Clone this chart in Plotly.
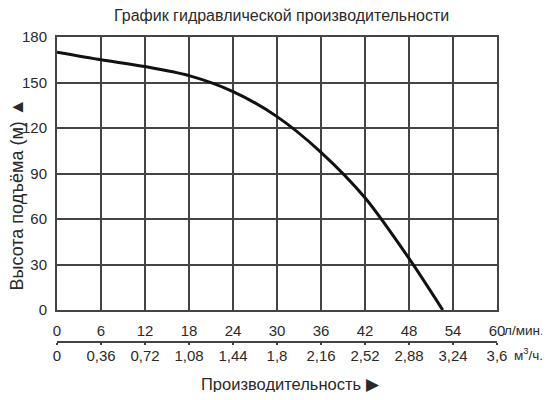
import plotly.graph_objects as go

# Data
flow_lpm = [0, 6, 12, 18, 24, 30, 36, 42, 48, 52.6]
head_m = [170, 165, 160.5, 154.5, 144, 127.5, 104, 74, 34, 0]

x_ticks = [0, 6, 12, 18, 24, 30, 36, 42, 48, 54, 60]
x_ticklabels = ["0", "6", "12", "18", "24", "30", "36", "42", "48", "54", "60"]
m3h_ticks = [0, 0.36, 0.72, 1.08, 1.44, 1.8, 2.16, 2.52, 2.88, 3.24, 3.6]
m3h_labels = ["0", "0,36", "0,72", "1,08", "1,44", "1,8", "2,16", "2,52", "2,88", "3,24", "3,6"]
y_ticks = [0, 30, 60, 90, 120, 150, 180]

FONT = "Liberation Sans, Arial, sans-serif"
TXT = "#2a2a2a"
GRID = "#444444"
TF = 15

OFF = 8  # page body margin
W, H = 542, 384
# page coordinates of plot box
PL, PR, PT, PB = 57, 497, 37, 310
AX2 = 342  # page y of second axis line
L, R, T = PL - OFF, W - (PR - OFF), PT - OFF
B = H - (AX2 - OFF)
paper_h = H - T - B
ydom0 = (AX2 - PB) / paper_h

fig = go.Figure()
fig.add_trace(go.Scatter(
    x=flow_lpm, y=head_m, mode="lines",
    line=dict(color="#111111", width=3, shape="spline", smoothing=0.8),
    showlegend=False, hoverinfo="skip", xaxis="x", yaxis="y",
))
# invisible trace for second axis
fig.add_trace(go.Scatter(
    x=[m3h_ticks[0], m3h_ticks[-1]], y=[0, 0], mode="markers",
    marker=dict(opacity=0), showlegend=False, hoverinfo="skip",
    xaxis="x2", yaxis="y",
))

fig.update_layout(
    width=W, height=H,
    margin=dict(l=L, r=R, t=T, b=B, pad=0, autoexpand=False),
    paper_bgcolor="white", plot_bgcolor="white",
    font=dict(family=FONT, color=TXT, size=TF),
    xaxis=dict(
        domain=[0, 1], range=[0, 60], anchor="y", automargin=False,
        tickmode="array", tickvals=x_ticks, ticktext=x_ticklabels,
        showgrid=True, gridcolor=GRID, gridwidth=1.5,
        showline=True, linecolor=GRID, linewidth=2, mirror=True,
        ticks="", zeroline=False, ticklabelstandoff=6,
        tickfont=dict(size=TF, family=FONT, color=TXT),
    ),
    xaxis2=dict(
        range=[0, 3.6], anchor="free", position=0, overlaying="x", automargin=False,
        tickmode="array", tickvals=m3h_ticks, ticktext=m3h_labels,
        showgrid=False, showline=True, linecolor=GRID, linewidth=2,
        ticks="outside", ticklen=2, tickwidth=2, tickcolor=GRID,
        side="bottom", zeroline=False, ticklabelstandoff=-2,
        tickfont=dict(size=TF, family=FONT, color=TXT),
    ),
    yaxis=dict(
        domain=[ydom0, 1], range=[0, 180], automargin=False,
        tickmode="array", tickvals=y_ticks,
        showgrid=True, gridcolor=GRID, gridwidth=1.5,
        showline=True, linecolor=GRID, linewidth=2, mirror=True,
        ticks="", zeroline=False, ticklabelstandoff=5,
        tickfont=dict(size=TF, family=FONT, color=TXT),
    ),
)

def px_x(px):
    return (px - OFF - L) / (W - L - R)

def px_y(py):
    return (H - B - (py - OFF)) / paper_h

fig.add_annotation(
    text="График гидравлической производительности",
    x=px_x(281), y=px_y(16), xref="paper", yref="paper",
    showarrow=False, font=dict(size=16, family=FONT, color=TXT),
    xanchor="center", yanchor="middle",
)
fig.add_annotation(
    text="Высота подъёма (м) ▲",
    x=px_x(16.5), y=px_y(195), xref="paper", yref="paper",
    showarrow=False, textangle=-90, font=dict(size=18, family=FONT, color=TXT),
    xanchor="center", yanchor="middle", borderpad=0,
)
fig.add_annotation(
    text="л/мин.",
    x=px_x(503), y=px_y(330), xref="paper", yref="paper",
    showarrow=False, font=dict(size=13.5, family=FONT, color=TXT),
    xanchor="left", yanchor="middle", borderpad=0,
)
fig.add_annotation(
    text="м<sup>3</sup>/ч.",
    x=px_x(513), y=px_y(354), xref="paper", yref="paper",
    showarrow=False, font=dict(size=13.5, family=FONT, color=TXT),
    xanchor="left", yanchor="middle", borderpad=0,
)
fig.add_annotation(
    text="Производительность ▶",
    x=px_x(290), y=px_y(384), xref="paper", yref="paper",
    showarrow=False, font=dict(size=16.5, family=FONT, color=TXT),
    xanchor="center", yanchor="middle",
)

fig.write_html("out.html")
